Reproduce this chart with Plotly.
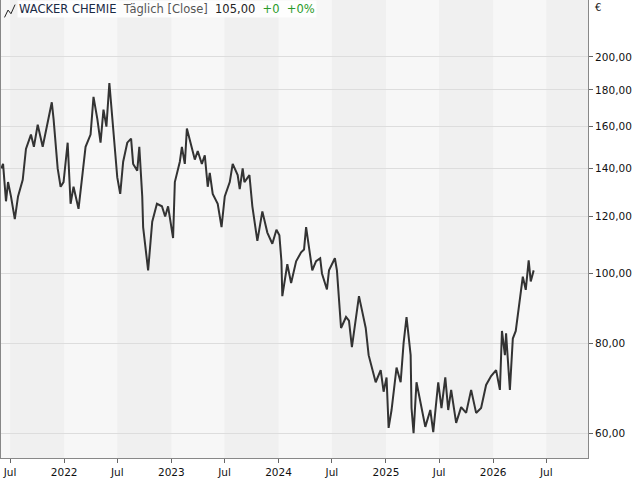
import plotly.graph_objects as go

dates = ["2021-06-01","2021-06-07","2021-06-17","2021-06-24","2021-07-04","2021-07-17","2021-07-28","2021-08-13","2021-08-24",
"2021-09-10","2021-09-20","2021-10-03","2021-10-20","2021-11-06","2021-11-20","2021-11-26","2021-12-03","2021-12-10",
"2021-12-20","2021-12-30","2022-01-13","2022-01-23","2022-02-02","2022-02-19","2022-03-05","2022-03-15","2022-04-01",
"2022-04-11","2022-04-24","2022-05-05","2022-05-15","2022-05-25","2022-06-04","2022-06-14","2022-06-24","2022-07-01",
"2022-07-11","2022-07-21","2022-08-04","2022-08-17","2022-08-24","2022-09-07","2022-09-14","2022-09-24","2022-09-27",
"2022-10-11","2022-10-14","2022-10-28","2022-11-13","2022-11-30","2022-12-11","2022-12-21","2023-01-07","2023-01-13",
"2023-01-30","2023-02-06","2023-02-16","2023-02-23","2023-03-12","2023-03-22","2023-04-01","2023-04-15","2023-04-25",
"2023-05-05","2023-05-12","2023-05-22","2023-06-08","2023-06-21","2023-07-02","2023-07-19","2023-07-29","2023-08-15",
"2023-08-22","2023-09-01","2023-09-07","2023-09-24","2023-10-04","2023-10-21","2023-11-07","2023-11-24","2023-12-11",
"2023-12-25","2024-01-04","2024-01-11","2024-01-14","2024-01-31","2024-02-13","2024-03-01","2024-03-18","2024-03-28",
"2024-04-04","2024-04-14","2024-04-25","2024-05-08","2024-05-22","2024-05-28","2024-06-14","2024-06-21","2024-07-11",
"2024-07-18","2024-08-01","2024-08-18","2024-08-28","2024-09-07","2024-09-20","2024-10-01","2024-10-11","2024-10-24",
"2024-11-03","2024-11-14","2024-11-27","2024-12-14","2024-12-24","2025-01-03","2025-01-10","2025-01-20","2025-02-06",
"2025-02-20","2025-03-02","2025-03-12","2025-03-26","2025-03-29","2025-04-05","2025-04-15","2025-04-28","2025-05-15",
"2025-06-01","2025-06-11","2025-06-28","2025-07-09","2025-07-22","2025-08-01","2025-08-11","2025-08-28","2025-09-14",
"2025-10-01","2025-10-18","2025-11-04","2025-11-21","2025-12-08","2025-12-25","2026-01-11","2026-01-24","2026-01-31",
"2026-02-10","2026-02-14","2026-02-27","2026-03-09","2026-03-19","2026-04-02","2026-04-12","2026-04-22","2026-05-02",
"2026-05-09","2026-05-19"]
close = [140,142,126,134,128,119,128,135,149,156,150,161,150,162,173,164,153,140,132,134,152,125,132,123,138,150,156,176,
164,152,169,160,184,164,150,136,129,143,152,154,142,139,150,128,116,105,101,118,125,124,120,124,112,134,143,150,142,159,
150,144,148,142,146,132,138,129,125,116,128,134,142,137,131,140,134,137,124,111,122,114,110,115,113,104,93,103,97,104,107,
108,116,108,101,104,105,100,95,101,105,101,84,87,86,79,86,93,89,84,77,74,70.6,73.4,68.5,71.7,61,64.6,74,70.6,80,87,77,65,
60,70.6,66,61.2,64.6,60.2,70.6,65,71.7,64.6,68.9,62,65.2,64,68.9,64,65,70,72,73.4,68.9,83.2,77,82.6,68.9,81.2,83.2,91.4,
99,94.9,104.3,97.5,101]

ytick_vals = [60, 80, 100, 120, 140, 160, 180, 200]
ytick_text = ["60,00", "80,00", "100,00", "120,00", "140,00", "160,00", "180,00", "200,00"]
xtick_vals = ["2021-07-01","2022-01-01","2022-07-01","2023-01-01","2023-07-01","2024-01-01",
              "2024-07-01","2025-01-01","2025-07-01","2026-01-01","2026-07-01"]
xtick_text = ["Jul","2022","Jul","2023","Jul","2024","Jul","2025","Jul","2026","Jul"]

fig = go.Figure(go.Scatter(x=dates, y=close, mode="lines",
                           line=dict(color="#333333", width=2), hoverinfo="skip"))

shapes = []
for y in range(2021, 2027):
    shapes.append(dict(type="rect", xref="x", yref="paper", x0=f"{y}-07-01", x1=f"{y+1}-01-01",
                       y0=0, y1=1, fillcolor="#F0F0F0", line=dict(width=0), layer="below"))
shapes.append(dict(type="path", xref="paper", yref="paper",
                   path="M 0.006 0.962 L 0.012 0.978 L 0.017 0.970 L 0.024 0.990",
                   line=dict(color="#222222", width=1)))
fig.update_layout(
    width=640, height=480, margin=dict(l=1, r=52, t=0, b=22),
    paper_bgcolor="white", plot_bgcolor="#F7F7F7", showlegend=False,
    font=dict(family="DejaVu Sans", size=10.5, color="#111111"),
    shapes=shapes,
    xaxis=dict(range=["2021-05-31", "2026-11-20"], tickvals=xtick_vals, ticktext=xtick_text,
               ticks="outside", ticklen=4, tickcolor="#666666", showgrid=False,
               showline=True, linecolor="#888888", mirror=True, zeroline=False),
    yaxis=dict(type="log", side="right", range=[1.7435, 2.3802], tickvals=ytick_vals, ticktext=ytick_text,
               ticks="outside", ticklen=4, tickcolor="#666666", showgrid=True, gridcolor="#DDDDDD",
               showline=True, linecolor="#888888", mirror=True, zeroline=False),
    annotations=[
        dict(xref="paper", yref="paper", x=0.028, y=1.0, xanchor="left", yanchor="top", showarrow=False,
             bgcolor="rgba(255,255,255,0.85)",
             text="<span style='color:#1a2a44'>WACKER CHEMIE</span>  <span style='color:#555555'>Täglich [Close]</span>  "
                  "<span style='color:#222222'>105,00</span>  <span style='color:#2a9a2a'>+0  +0%</span>",
             font=dict(size=11.5)),
        dict(xref="paper", yref="paper", x=1.008, y=1.0, xanchor="left", yanchor="top", showarrow=False,
             text="€", font=dict(size=10)),
    ],
)
fig.write_html("out.html", config={"displayModeBar": False},
               post_script="document.body.style.margin='0';document.body.style.overflow='hidden';")
